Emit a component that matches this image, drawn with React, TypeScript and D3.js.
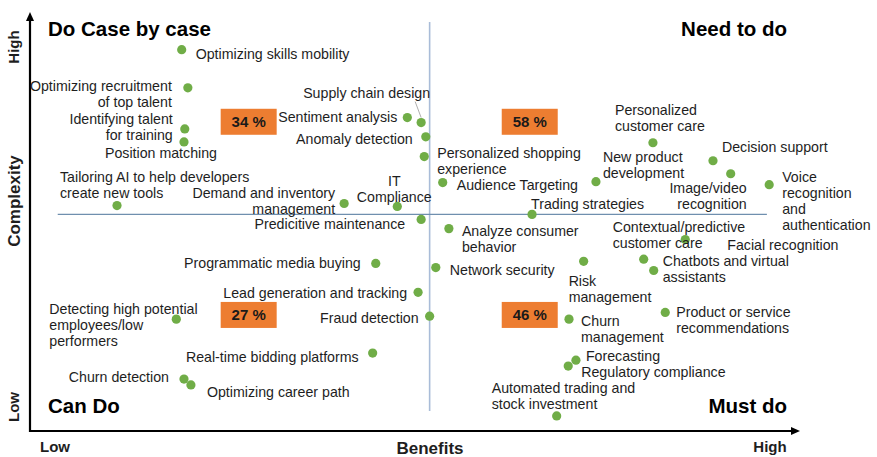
import React from "react";
import * as d3 from "d3";

// ---- Data ----
const useCases: string[] = [
  "Optimizing skills mobility",
  "Optimizing recruitment\nof top talent",
  "Identifying talent\nfor training",
  "Position matching",
  "Tailoring AI to help developers\ncreate new tools",
  "Demand and inventory\nmanagement",
  "IT\nCompliance",
  "Supply chain design",
  "Sentiment analysis",
  "Anomaly detection",
  "Personalized shopping\nexperience",
  "Audience Targeting",
  "Predicitive maintenance",
  "Analyze consumer\nbehavior",
  "Network security",
  "Programmatic media buying",
  "Lead generation and tracking",
  "Fraud detection",
  "Detecting high potential\nemployees/low\nperformers",
  "Real-time bidding platforms",
  "Churn detection",
  "Optimizing career path",
  "Trading strategies",
  "New product\ndevelopment",
  "Personalized\ncustomer care",
  "Decision support",
  "Image/video\nrecognition",
  "Voice\nrecognition\nand\nauthentication",
  "Contextual/predictive\ncustomer care",
  "Facial recognition",
  "Chatbots and virtual\nassistants",
  "Risk\nmanagement",
  "Churn\nmanagement",
  "Product or service\nrecommendations",
  "Forecasting",
  "Regulatory compliance",
  "Automated trading and\nstock investment",
];

const benefits: number[] = [
  19.7, 20.5, 20.1, 20.0, 11.3, 40.8, 47.7, 50.8, 49.0, 51.4, 51.2, 53.6, 50.8,
  54.4, 52.7, 44.9, 50.4, 51.9, 19.0, 44.5, 20.0, 20.9, 65.2, 73.5, 80.9, 88.7,
  91.0, 96.0, 79.7, 85.1, 81.0, 71.9, 70.0, 82.5, 70.9, 69.9, 68.4,
];

const complexity: number[] = [
  91.0, 81.9, 72.1, 69.0, 53.8, 54.3, 53.6, 73.6, 74.8, 70.2, 65.5, 59.3, 50.5,
  48.3, 39.0, 40.0, 33.1, 27.4, 26.7, 18.6, 12.4, 11.0, 51.7, 59.5, 68.8, 64.5,
  61.4, 58.8, 41.0, 45.7, 38.3, 40.5, 26.7, 28.3, 16.9, 15.5, 3.6,
];

const quadrantTitles: string[] = ["Do Case by case", "Need to do", "Can Do", "Must do"];
const quadrantShares: string[] = ["34 %", "58 %", "27 %", "46 %"];
const shareBenefit: number[] = [28.4, 64.9, 28.4, 64.9];
const shareComplexity: number[] = [73.8, 73.8, 27.7, 27.7];
const axisTickLabels: string[] = ["Low", "High"];
const xAxisTitle = "Benefits";
const yAxisTitle = "Complexity";
const dividerBenefit = 51.9;
const dividerComplexity = 51.7;

// ---- Label layout (offsets from the dot, px) ----
type Anchor = "start" | "middle" | "end";
const labelLayout: [Anchor, number, number][] = [
  ["start", 14, 4],
  ["end", -16, -2],
  ["end", -12, -11],
  ["middle", -23, 11],
  ["start", -57, -29],
  ["end", -9, -11],
  ["middle", -3, -26],
  ["end", 9, -30],
  ["end", -10, -1],
  ["end", -13, 2],
  ["start", 13, -4],
  ["start", 14, 2],
  ["end", -16, 4],
  ["start", 13, 2],
  ["start", 14, 2],
  ["end", -15, -1],
  ["end", -11, 0],
  ["end", -11, 1],
  ["start", -127, -11],
  ["end", -14, 3],
  ["end", -15, -3],
  ["start", 16, 6],
  ["start", -1, -11],
  ["start", 7, -25],
  ["start", -38, -33],
  ["start", 9, -14],
  ["end", 16, 14],
  ["start", 13, -8],
  ["start", -31, -33],
  ["start", 42, 5],
  ["start", 9, -10],
  ["start", -15, 19],
  ["start", 12, 1],
  ["start", 11, -1],
  ["start", 10, -5],
  ["start", 13, 5],
  ["start", -65, -29],
];

const W = 877;
const H = 457;
const FONT = "'Liberation Sans', Arial, Helvetica, sans-serif";
const TEXT = "#1e1e1e";
const GREEN = "#70ad47";
const ORANGE = "#ed7d31";
const LINE_H = 16;

export default function App() {
  const x = d3.scaleLinear().domain([0, 100]).range([30, 800]);
  const y = d3.scaleLinear().domain([0, 100]).range([431, 12]);

  const ax0 = x(0);
  const ay0 = y(0);
  const xEnd = x(100);
  const yEnd = y(100);

  const arrowX = d3.path();
  arrowX.moveTo(xEnd, ay0);
  arrowX.lineTo(xEnd - 9, ay0 - 4);
  arrowX.lineTo(xEnd - 9, ay0 + 4);
  arrowX.closePath();
  const arrowY = d3.path();
  arrowY.moveTo(ax0, yEnd);
  arrowY.lineTo(ax0 - 4, yEnd + 9);
  arrowY.lineTo(ax0 + 4, yEnd + 9);
  arrowY.closePath();

  return (
    <svg
      width={W}
      height={H}
      style={{ position: "absolute", left: 0, top: 0, background: "#fff" }}
      fontFamily={FONT}
    >
      <rect x={0} y={0} width={W} height={H} fill="#fff" />

      {/* dividers */}
      <line
        x1={x(dividerBenefit)}
        x2={x(dividerBenefit)}
        y1={y(97.6)}
        y2={y(4.8)}
        stroke="#a9bcd8"
        strokeWidth={1.6}
      />
      <line
        x1={x(3.6)}
        x2={x(95.7)}
        y1={y(dividerComplexity)}
        y2={y(dividerComplexity)}
        stroke="#6f8fae"
        strokeWidth={1.1}
      />

      {/* axes */}
      <line x1={ax0} y1={ay0} x2={xEnd - 8} y2={ay0} stroke="#000" strokeWidth={2.2} />
      <line x1={ax0} y1={ay0 + 1.1} x2={ax0} y2={yEnd + 8} stroke="#000" strokeWidth={2.2} />
      <path d={arrowX.toString()} fill="#000" />
      <path d={arrowY.toString()} fill="#000" />

      {/* axis labels */}
      <text x={55} y={452} textAnchor="middle" fontSize={15} fontWeight="bold" fill={TEXT}>
        {axisTickLabels[0]}
      </text>
      <text x={770} y={452} textAnchor="middle" fontSize={15} fontWeight="bold" fill={TEXT}>
        {axisTickLabels[1]}
      </text>
      <text x={430} y={454} textAnchor="middle" fontSize={17} fontWeight="bold" fill={TEXT}>
        {xAxisTitle}
      </text>
      <text
        transform="translate(19,407) rotate(-90)"
        textAnchor="middle"
        fontSize={15}
        fontWeight="bold"
        fill={TEXT}
      >
        {axisTickLabels[0]}
      </text>
      <text
        transform="translate(19,47) rotate(-90)"
        textAnchor="middle"
        fontSize={15}
        fontWeight="bold"
        fill={TEXT}
      >
        {axisTickLabels[1]}
      </text>
      <text
        transform="translate(20,201) rotate(-90)"
        textAnchor="middle"
        fontSize={17}
        fontWeight="bold"
        fill={TEXT}
      >
        {yAxisTitle}
      </text>

      {/* quadrant titles */}
      <text x={48} y={36} fontSize={20.5} fontWeight="bold" fill="#000">
        {quadrantTitles[0]}
      </text>
      <text x={787} y={36} textAnchor="end" fontSize={20.5} fontWeight="bold" fill="#000">
        {quadrantTitles[1]}
      </text>
      <text x={48} y={413} fontSize={20.5} fontWeight="bold" fill="#000">
        {quadrantTitles[2]}
      </text>
      <text x={787} y={413} textAnchor="end" fontSize={20.5} fontWeight="bold" fill="#000">
        {quadrantTitles[3]}
      </text>

      {/* share boxes */}
      {quadrantShares.map((s, i) => {
        const cx = x(shareBenefit[i]);
        const cy = y(shareComplexity[i]);
        return (
          <g key={s}>
            <rect x={cx - 28} y={cy - 13} width={56} height={26} fill={ORANGE} />
            <text
              x={cx}
              y={cy + 5.5}
              textAnchor="middle"
              fontSize={15}
              fontWeight="bold"
              fill="#1a1a1a"
            >
              {s}
            </text>
          </g>
        );
      })}

      {/* leader line for Supply chain design */}
      <line
        x1={x(benefits[7]) - 6}
        y1={y(complexity[7]) - 21}
        x2={x(benefits[7])}
        y2={y(complexity[7]) - 5}
        stroke="#999"
        strokeWidth={0.8}
      />

      {/* points */}
      {useCases.map((name, i) => (
        <circle
          key={"c" + i}
          cx={x(benefits[i])}
          cy={y(complexity[i])}
          r={4.6}
          fill={GREEN}
        />
      ))}

      {/* labels */}
      {useCases.map((name, i) => {
        const [anchor, dx, dy] = labelLayout[i];
        const lx = x(benefits[i]) + dx;
        const ly = y(complexity[i]) + dy;
        return (
          <text
            key={"t" + i}
            x={lx}
            y={ly + 5.6}
            textAnchor={anchor}
            fontSize={14.2}
            fill={TEXT}
          >
            {name.split("\n").map((line, k) => (
              <tspan key={k} x={lx} dy={k === 0 ? 0 : LINE_H}>
                {line}
              </tspan>
            ))}
          </text>
        );
      })}
    </svg>
  );
}
